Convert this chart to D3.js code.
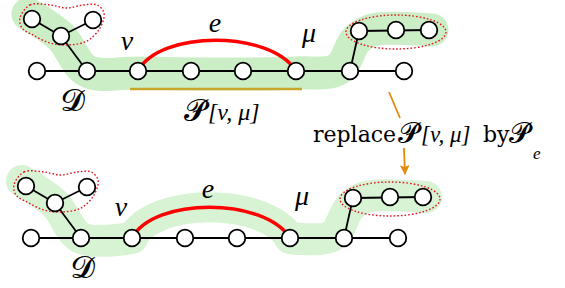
<!DOCTYPE html>
<html>
<head>
<meta charset="utf-8">
<script src="https://cdn.jsdelivr.net/npm/d3@7"></script>
<style>
  body { margin: 0; background: #fff; }
  text { font-family: "DejaVu Serif", serif; }
  .it { font-family: "Liberation Serif", serif; font-style: italic; }
  .cal { font-weight: normal; }
</style>
</head>
<body>
<div id="fig"></div>
<script>
// graph nodes (top panel coords), the bottom panel is the same graph shifted
var mainX = [37, 87, 138, 191, 243, 296, 350, 404];
var mainY = 71;
var treeNodes = [[32, 19], [61, 36], [93, 20]];
var chainNodes = [[359, 31], [396, 30], [429, 30]];
var vIdx = 2, muIdx = 5;     // v and mu on the main path
var arcLift = 41;            // how high the edge e bends up

// highlighted path D (green band)
var bandTop = [[28, 14], [61, 37], [87, 71], [140, 73], [296, 73], [338, 69], [356, 40], [372, 30], [432, 30]];
var bandBotA = [[28, 14], [61, 37], [87, 71], [138, 71]];
var bandBotB = [[296, 71], [338, 69], [356, 40], [372, 30], [432, 30]];

// dotted red outlines
var blob = [[20, 18], [30, 5], [50, 5], [67, 8], [83, 5], [97, 5], [104, 13], [100, 28], [87, 41], [67, 45], [50, 43], [33, 35], [22, 28]];
var ellipse = {cx: 396, cy: 32, rx: 50, ry: 17};

// labels for each panel: [text, x, y]
var labelsTop = [["v", 127, 50], ["e", 215, 32], ["\u03bc", 309, 42]];
var labelsBot = [["v", 121, 216], ["e", 208, 198], ["\u03bc", 302, 205]];
var dTop = [72, 110], dBot = [82, 277];

var width = 565, height = 288;
var green1 = "#cbeec7", green2 = "#d7f3d3";
var calP = "\ud835\udcdf", calD = "\ud835\udcd3";

var svg = d3.select("#fig").append("svg")
    .attr("width", width).attr("height", height);

var line = d3.line().curve(d3.curveCatmullRom.alpha(0.5));
var blobLine = d3.line().curve(d3.curveCatmullRomClosed.alpha(0.5));

function arcPath() {
  var x0 = mainX[vIdx], x1 = mainX[muIdx];
  var p = d3.path();
  p.moveTo(x0, mainY);
  p.bezierCurveTo(x0 + 22, mainY - arcLift, x1 - 26, mainY - arcLift, x1, mainY);
  return p.toString();
}

function drawGraph(g) {
  // edges
  var edges = [];
  edges.push([treeNodes[0], treeNodes[1]]);
  edges.push([treeNodes[2], treeNodes[1]]);
  edges.push([treeNodes[1], [mainX[1], mainY]]);
  edges.push([[mainX[0], mainY], [mainX[mainX.length - 1], mainY]]);
  edges.push([[mainX[6], mainY], chainNodes[0]]);
  edges.push([chainNodes[0], chainNodes[2]]);
  g.selectAll("line.edge").data(edges).enter().append("line")
      .attr("x1", function(d) { return d[0][0]; })
      .attr("y1", function(d) { return d[0][1]; })
      .attr("x2", function(d) { return d[1][0]; })
      .attr("y2", function(d) { return d[1][1]; })
      .attr("stroke", "#000").attr("stroke-width", 1.8);

  // red edge e
  g.append("path").attr("d", arcPath())
      .attr("fill", "none").attr("stroke", "#f00").attr("stroke-width", 3.5);

  // dotted outlines
  g.append("path").attr("d", blobLine(blob))
      .attr("fill", "none").attr("stroke", "#e8141e").attr("stroke-width", 1.4)
      .attr("stroke-dasharray", "1.6,2");
  g.append("ellipse")
      .attr("cx", ellipse.cx).attr("cy", ellipse.cy)
      .attr("rx", ellipse.rx).attr("ry", ellipse.ry)
      .attr("fill", "none").attr("stroke", "#e8141e").attr("stroke-width", 1.4)
      .attr("stroke-dasharray", "1.6,2");

  // nodes
  var nodes = mainX.map(function(x) { return [x, mainY]; })
      .concat(treeNodes).concat(chainNodes);
  g.selectAll("circle").data(nodes).enter().append("circle")
      .attr("cx", function(d) { return d[0]; })
      .attr("cy", function(d) { return d[1]; })
      .attr("r", 8.3)
      .attr("fill", "#fff").attr("stroke", "#000").attr("stroke-width", 1.8);
}

function drawLabels(g, labels, dpos) {
  g.selectAll("text.lab").data(labels).enter().append("text")
      .attr("class", "lab it")
      .attr("x", function(d) { return d[1]; })
      .attr("y", function(d) { return d[2]; })
      .attr("text-anchor", "middle")
      .style("font-size", "28px")
      .text(function(d) { return d[0]; });
  g.append("text").attr("class", "cal").attr("x", dpos[0]).attr("y", dpos[1])
      .attr("text-anchor", "middle")
      .style("font-size", "30px")
      .text(calD);
}

// ---- top panel
var gTop = svg.append("g");
gTop.append("path").attr("d", line(bandTop))
    .attr("fill", "none").attr("stroke", green1).attr("stroke-width", 33)
    .attr("stroke-linecap", "round").attr("stroke-linejoin", "round");
gTop.append("line")
    .attr("x1", 130).attr("x2", 302).attr("y1", 89).attr("y2", 89)
    .attr("stroke", "#c9a62c").attr("stroke-width", 2.6);
drawGraph(gTop);
drawLabels(svg.append("g"), labelsTop, dTop);

// ---- bottom panel
var gBot = svg.append("g").attr("transform", "translate(-6,167)");
[bandBotA, bandBotB].forEach(function(b) {
  gBot.append("path").attr("d", line(b))
      .attr("fill", "none").attr("stroke", green2).attr("stroke-width", 32)
      .attr("stroke-linecap", "round").attr("stroke-linejoin", "round");
});
gBot.append("path").attr("d", arcPath())
    .attr("fill", "none").attr("stroke", green2).attr("stroke-width", 30)
    .attr("stroke-linecap", "round");
drawGraph(gBot);
drawLabels(svg.append("g"), labelsBot, dBot);

// P[v, mu] under the top path
var pl = svg.append("text").attr("y", 120);
pl.append("tspan").attr("class", "cal").attr("x", 184).style("font-size", "30px").text(calP);
pl.append("tspan").attr("class", "it").attr("x", 208).style("font-size", "24px").text("[v, \u03bc]");

// replace arrow
var orange = "#e38b0c";
svg.append("defs").append("marker")
    .attr("id", "ah").attr("viewBox", "0 0 10 10")
    .attr("refX", 9).attr("refY", 5)
    .attr("markerWidth", 5.5).attr("markerHeight", 5.5)
    .attr("orient", "auto")
  .append("path").attr("d", "M0,0L10,5L0,10L2,5z").attr("fill", orange);
svg.append("line").attr("x1", 389).attr("y1", 92).attr("x2", 400).attr("y2", 118)
    .attr("stroke", orange).attr("stroke-width", 1.8);
svg.append("line").attr("x1", 404).attr("y1", 148).attr("x2", 405).attr("y2", 174)
    .attr("stroke", orange).attr("stroke-width", 1.8)
    .attr("marker-end", "url(#ah)");

var rt = svg.append("text").attr("y", 142).style("font-size", "22px");
rt.append("tspan").attr("x", 313).text("replace");
rt.append("tspan").attr("class", "cal").attr("x", 398).style("font-size", "28px").text(calP);
rt.append("tspan").attr("class", "it").attr("x", 421).style("font-size", "23px").text("[v, \u03bc]");
rt.append("tspan").attr("x", 483).text("by");
rt.append("tspan").attr("class", "cal").attr("x", 509).style("font-size", "28px").text(calP);
rt.append("tspan").attr("class", "it").attr("x", 533).attr("dy", 17).style("font-size", "17px").text("e");
</script>
</body>
</html>
